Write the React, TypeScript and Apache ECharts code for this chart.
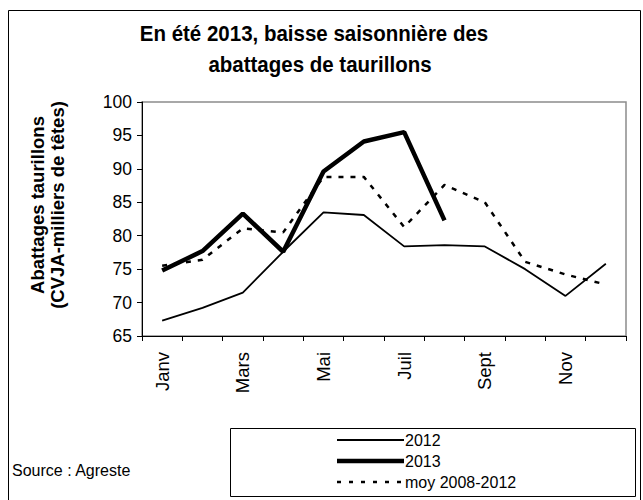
import React, { useEffect, useRef } from "react";
import * as echarts from "echarts";

const months = ["Janv", "Févr", "Mars", "Avr", "Mai", "Juin", "Juil", "Août", "Sept", "Oct", "Nov", "Déc"];
const yTicks = [65, 70, 75, 80, 85, 90, 95, 100];
const values2012 = [67.3, 69.2, 71.5, 77.6, 83.5, 83.1, 78.4, 78.6, 78.4, 75.0, 71.0, 75.8];
const values2013 = [74.8, 77.7, 83.3, 77.6, 89.6, 94.1, 95.5, 82.3];
const valuesMoy = [75.5, 76.4, 81.1, 80.5, 88.8, 88.8, 81.3, 87.6, 85.0, 76.1, 74.2, 72.7];
const seriesNames = ["2012", "2013", "moy 2008-2012"];
const titleLines = ["En été 2013, baisse saisonnière des", "abattages de taurillons"];
const yTitleLines = ["Abattages taurillons", "(CVJA-milliers de têtes)"];
const sourceText = "Source : Agreste";

const FONT = "Liberation Sans, Arial, sans-serif";

const lineStyles = [
  { color: "#000", width: 1.8 },
  { color: "#000", width: 4.5 },
  { color: "#000", width: 2.5, type: [5, 7] as number[] },
];

export default function App() {
  const ref = useRef<HTMLDivElement>(null);
  useEffect(() => {
    if (!ref.current) return;
    const chart = echarts.init(ref.current, null, { renderer: "svg" });
    const legendRows = [440, 461, 482];
    const legendGraphics: any[] = [];
    seriesNames.forEach((name, i) => {
      const ls = lineStyles[i];
      legendGraphics.push({
        type: "line",
        shape: { x1: 337, y1: legendRows[i], x2: 404, y2: legendRows[i] },
        style: {
          stroke: "#000",
          lineWidth: ls.width,
          lineDash: (ls as any).type ? [4, 8] : null,
        },
        silent: true,
      });
      legendGraphics.push({
        type: "text",
        x: 405,
        y: legendRows[i],
        style: { text: name, font: `16px ${FONT}`, fill: "#000", textAlign: "left", textVerticalAlign: "middle" },
      });
    });
    chart.setOption({
      animation: false,
      backgroundColor: "#fff",
      textStyle: { fontFamily: FONT },
      grid: {
        left: 142,
        right: 17,
        top: 102,
        bottom: 164,
        show: true,
        borderColor: "#8c8c8c",
        borderWidth: 1.5,
      },
      xAxis: {
        type: "category",
        data: months,
        boundaryGap: true,
        axisLine: { lineStyle: { color: "#000", width: 1 } },
        axisTick: { show: true, interval: 0, inside: false, length: 5, lineStyle: { color: "#000" } },
        axisLabel: {
          interval: 1,
          rotate: 90,
          margin: 16,
          color: "#000",
          fontSize: 18.5,
          fontFamily: FONT,
        },
      },
      yAxis: {
        type: "value",
        min: yTicks[0],
        max: yTicks[yTicks.length - 1],
        interval: 5,
        axisLine: { show: true, lineStyle: { color: "#000", width: 1 } },
        axisTick: { show: true, inside: false, length: 5, lineStyle: { color: "#000" } },
        splitLine: { show: false },
        axisLabel: { color: "#000", fontSize: 17.5, margin: 10, fontFamily: FONT },
      },
      series: [
        {
          name: seriesNames[0],
          type: "line",
          data: values2012,
          symbol: "none",
          lineStyle: lineStyles[0],
        },
        {
          name: seriesNames[1],
          type: "line",
          data: values2013,
          symbol: "none",
          lineStyle: lineStyles[1],
        },
        {
          name: seriesNames[2],
          type: "line",
          data: valuesMoy,
          symbol: "none",
          lineStyle: lineStyles[2],
        },
      ],
      graphic: [
        {
          type: "rect",
          shape: { x: 8.5, y: 10.5, width: 632, height: 495 },
          style: { fill: "none", stroke: "#000", lineWidth: 1 },
          silent: true,
          z: -1,
        },
        {
          type: "rect",
          shape: { x: 230.5, y: 428.5, width: 405, height: 68 },
          style: { fill: "none", stroke: "#000", lineWidth: 1 },
          silent: true,
        },
        ...legendGraphics,
        {
          type: "text",
          x: 314,
          y: 33,
          scaleY: 1.12,
          style: { text: titleLines[0], font: `bold 20.5px ${FONT}`, fill: "#000", textAlign: "center", textVerticalAlign: "middle" },
        },
        {
          type: "text",
          x: 320,
          y: 64,
          scaleY: 1.12,
          style: { text: titleLines[1], font: `bold 20.5px ${FONT}`, fill: "#000", textAlign: "center", textVerticalAlign: "middle" },
        },
        {
          type: "text",
          x: 37,
          y: 205,
          rotation: Math.PI / 2,
          style: { text: yTitleLines[0], font: `bold 18.5px ${FONT}`, fill: "#000", textAlign: "center", textVerticalAlign: "middle" },
        },
        {
          type: "text",
          x: 57,
          y: 205,
          rotation: Math.PI / 2,
          style: { text: yTitleLines[1], font: `bold 18.5px ${FONT}`, fill: "#000", textAlign: "center", textVerticalAlign: "middle" },
        },
        {
          type: "text",
          x: 12,
          y: 470,
          style: { text: sourceText, font: `16px ${FONT}`, fill: "#000", textAlign: "left", textVerticalAlign: "middle" },
        },
      ],
    });
    return () => chart.dispose();
  }, []);
  return <div ref={ref} style={{ position: "fixed", left: 0, top: 0, width: 643, height: 500 }} />;
}
